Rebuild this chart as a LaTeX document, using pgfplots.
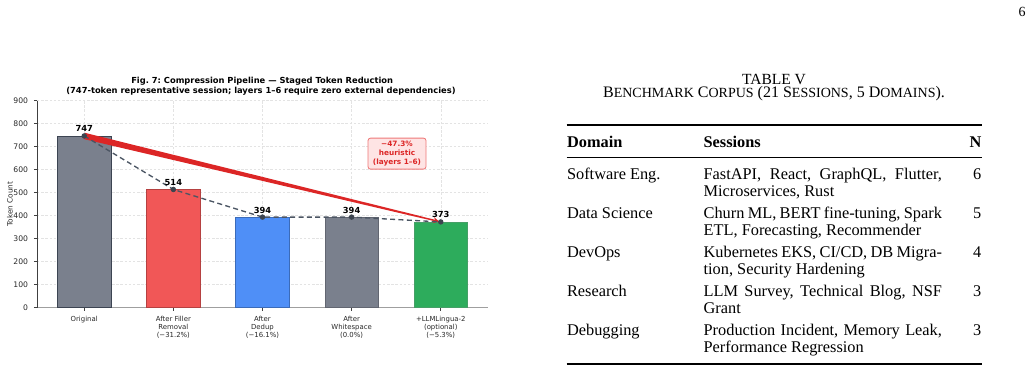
\documentclass[border=0pt]{standalone}
\usepackage{fontspec}
\setmainfont{Liberation Serif}
\newfontfamily\dejavu{DejaVu Sans}
\usepackage{pgfplots}
\pgfplotsset{compat=1.18}
\usetikzlibrary{calc,arrows.meta}
\frenchspacing

\definecolor{bargray}{RGB}{122,128,141}
\definecolor{bargrayedge}{RGB}{60,68,82}
\definecolor{barred}{RGB}{241,87,87}
\definecolor{barblue}{RGB}{79,143,247}
\definecolor{bargreen}{RGB}{45,172,92}
\definecolor{arrowred}{RGB}{220,38,38}
\definecolor{slate}{RGB}{75,85,99}
\definecolor{pinkfill}{RGB}{254,228,228}
\definecolor{pinkedge}{RGB}{238,120,120}
\definecolor{txt}{RGB}{40,40,40}

\newcommand\tabfont{\fontsize{9.8}{10.2}\selectfont}
\newcommand\smc[1]{{\fontsize{8.4}{9}\selectfont #1}}
% #1 baseline (px from top), #2 domain, #3 justified first line, #4 second line, #5 N
\newcommand\tabrow[5]{%
  \node[anchor=base west, inner sep=0pt, font=\tabfont] at (566.7,{372-#1}) {#2};
  \node[anchor=base west, inner sep=0pt, font=\tabfont] at (703.3,{372-#1}) {\makebox[143pt][s]{#3}};
  \node[anchor=base west, inner sep=0pt, font=\tabfont] at (703.3,{372-#1-17}) {#4};
  \node[anchor=base east, inner sep=0pt, font=\tabfont] at (981.7,{372-#1}) {#5};
}

\begin{document}
\begin{tikzpicture}
\useasboundingbox (0,0) rectangle (618.6pt,223.2pt);
\begin{axis}[
  at={(22.2pt,38.58pt)}, anchor=south west,
  scale only axis, width=270.6pt, height=124.2pt,
  xmin=-0.53, xmax=4.53, ymin=0, ymax=900,
  axis x line=bottom, axis y line=left,
  axis line style={-},
  x axis line style={line width=0.8pt, color=gray!75},
  y axis line style={line width=0.5pt, color=black!75},
  xtick={0,1,2,3,4},
  xticklabels={Original, After Filler\\Removal\\(−31.2\%), After\\Dedup\\(−16.1\%), After\\Whitespace\\(0.0\%), +LLMLingua-2\\(optional)\\(−5.3\%)},
  ytick={0,100,...,900},
  tick align=outside, major tick length=1.8pt,
  tick style={color=black!75, line width=0.4pt},
  xticklabel style={align=center, font=\dejavu\fontsize{4.15}{4.8}\selectfont, text=txt},
  yticklabel style={font=\dejavu\fontsize{4.6}{5}\selectfont, text=txt},
  /pgf/number format/assume math mode=true,
  grid=major,
  major grid style={line width=0.3pt, color=gray!22, dash pattern=on 1.5pt off 1pt},
  clip=false,
]
\addplot[ybar, bar width=0.6, bar shift=0pt, fill=bargray, draw=bargrayedge, line width=0.4pt] coordinates {(0,747)};
\addplot[ybar, bar width=0.6, bar shift=0pt, fill=barred, draw=barred!75!black, line width=0.4pt] coordinates {(1,514)};
\addplot[ybar, bar width=0.6, bar shift=0pt, fill=barblue, draw=barblue!75!black, line width=0.4pt] coordinates {(2,394)};
\addplot[ybar, bar width=0.6, bar shift=0pt, fill=bargray, draw=bargray!80!black, line width=0.4pt] coordinates {(3,394)};
\addplot[ybar, bar width=0.6, bar shift=0pt, fill=bargreen, draw=bargreen!70!gray, line width=0.4pt] coordinates {(4,373)};

\coordinate (A) at (axis cs:0,747);
\coordinate (B) at (axis cs:4,373);
\coordinate (C) at ($(A)!0.95!(B)$);
\fill[arrowred] ($(A)!1.9pt!90:(B)$) -- ($(C)!0.5pt!-90:(A)$) -- ($(C)!0.5pt!90:(A)$) -- ($(A)!1.9pt!-90:(B)$) -- cycle;
\draw[arrowred, line width=0.9pt, -{Stealth[length=3.5pt,width=3.5pt]}, shorten >=1pt] (C) -- (B);

\addplot[slate, line width=0.8pt, dash pattern=on 3pt off 2pt, mark=*, mark size=1.2pt, mark options={solid, fill=slate!80!black, draw=slate!80!black}] coordinates {(0,747) (1,514) (2,394) (3,394) (4,373)};

\foreach \xx/\vv in {0/747,1/514,2/394,3/394,4/373}{
  \edef\temp{\noexpand\node[font=\noexpand\dejavu\noexpand\bfseries\noexpand\fontsize{5.0}{5}\noexpand\selectfont, anchor=base, yshift=2.4pt, inner sep=0pt] at (axis cs:\xx,\vv) {\vv};}
  \temp
}

\node[fill=pinkfill, draw=pinkedge, line width=0.5pt, rounded corners=1.5pt, minimum width=34.8pt, minimum height=18.6pt, inner sep=0pt, align=center, text=arrowred, font=\dejavu\bfseries\fontsize{4.4}{5.4}\selectfont] at (axis cs:3.509,670) {−47.3\%\\heuristic\\(layers 1–6)};
\end{axis}

\begin{scope}[x=0.6pt,y=0.6pt]
% chart title and y label
\node[anchor=base, inner sep=0pt, font=\dejavu\bfseries\fontsize{5.0}{5}\selectfont] at (262.2,288.7) {Fig. 7: Compression Pipeline — Staged Token Reduction};
\node[anchor=base, inner sep=0pt, font=\dejavu\bfseries\fontsize{5.0}{5}\selectfont] at (261,278.7) {(747-token representative session; layers 1–6 require zero external dependencies)};
\node[rotate=90, inner sep=0pt, font=\dejavu\fontsize{4.4}{5}\selectfont, text=txt] at (10,167.8) {Token Count};

% page number
\node[anchor=base, inner sep=0pt, font=\fontsize{8.4}{10}\selectfont] at (1022,355.3) {6};

% table caption
\node[anchor=base, inner sep=0pt, font=\fontsize{9.3}{11}\selectfont] at (774,288) {TABLE V};
\node[anchor=base, inner sep=0pt, font=\fontsize{9.6}{11}\selectfont] at (774,274.7) {B\smc{ENCHMARK} C\smc{ORPUS} (21 S\smc{ESSIONS}, 5 D\smc{OMAINS}).};

% rules
\draw[line width=0.9pt] (566.7,247) -- (981.7,247);
\draw[line width=0.55pt] (566.7,214.3) -- (981.7,214.3);
\draw[line width=0.9pt] (566.7,8) -- (981.7,8);

% header
\node[anchor=base west, inner sep=0pt, font=\bfseries\tabfont] at (566.7,224.7) {Domain};
\node[anchor=base west, inner sep=0pt, font=\bfseries\tabfont] at (703.3,224.7) {Sessions};
\node[anchor=base east, inner sep=0pt, font=\bfseries\tabfont] at (981.7,224.7) {N};

\tabrow{179.5}{Software Eng.}{FastAPI, React, GraphQL, Flutter,}{Microservices, Rust}{6}
\tabrow{218.4}{Data Science}{Churn ML, BERT fine-tuning, Spark}{ETL, Forecasting, Recommender}{5}
\tabrow{257.3}{DevOps}{Kubernetes EKS, CI/CD, DB Migra-}{tion, Security Hardening}{4}
\tabrow{296.2}{Research}{LLM Survey, Technical Blog, NSF}{Grant}{3}
\tabrow{335.1}{Debugging}{Production Incident, Memory Leak,}{Performance Regression}{3}
\end{scope}
\end{tikzpicture}
\end{document}
